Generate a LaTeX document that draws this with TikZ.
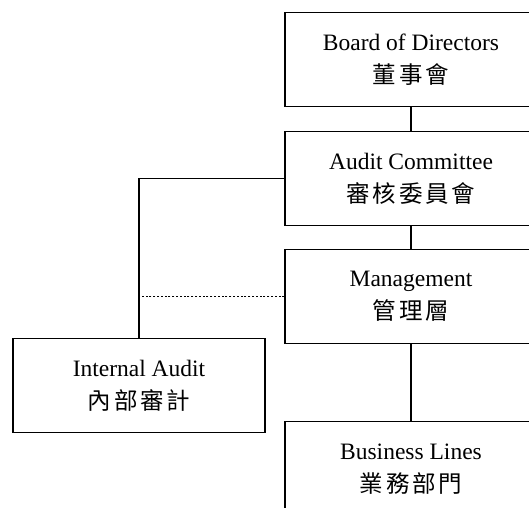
\documentclass[tikz,border=0pt]{standalone}
\usepackage{fontspec}
\setmainfont{Liberation Serif}
\newfontfamily\cjk[LetterSpace=12]{Noto Sans CJK TC}
\usetikzlibrary{positioning}

\begin{document}
\begin{tikzpicture}[x=1pt,y=1pt]

\tikzstyle{box}=[draw=black, line width=1.1pt, align=center, minimum width=252pt, minimum height=94pt, inner sep=0pt, font=\fontsize{23.5}{33}\selectfont]
\tikzstyle{link}=[black, line width=1.1pt]

\useasboundingbox (0,0) rectangle (529,-507);
\clip (0,0) rectangle (529,-507);

\node[box] (board) at (411,-59.5) {Board of Directors\\{\cjk 董事會}};
\node[box, below=24pt of board] (audit) {Audit Committee\\{\cjk 審核委員會}};
\node[box, below=23pt of audit] (mgmt) {Management\\{\cjk 管理層}};
\node[box, below=77pt of mgmt] (lines) {Business Lines\\{\cjk 業務部門}};
\node[box] (internal) at (139,-385.5) {Internal Audit\\{\cjk 內部審計}};

\draw[link] (board)--(audit);
\draw[link] (audit)--(mgmt);
\draw[link] (mgmt)--(lines);
\draw[link] (audit.west) -| (internal.north);
\draw[link, dash pattern=on 2pt off 1.8pt] (mgmt.west) -- (mgmt.west -| internal.north);
\end{tikzpicture}
\end{document}
